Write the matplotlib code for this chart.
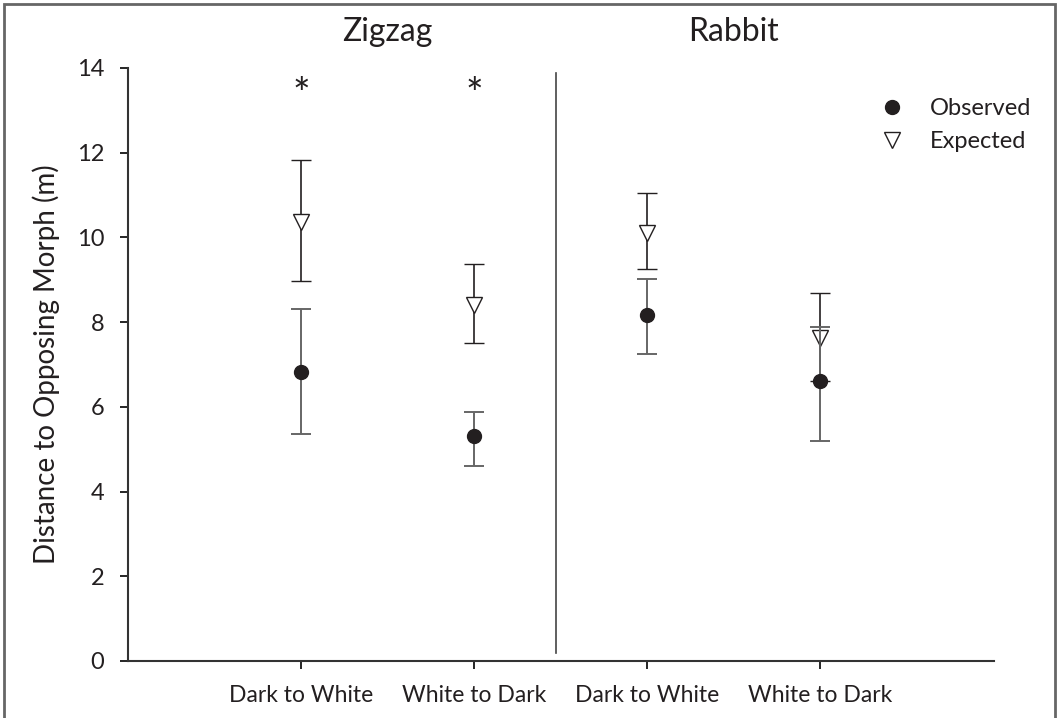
import matplotlib.pyplot as plt
from matplotlib.lines import Line2D
from matplotlib.patches import Rectangle

plt.rcParams['font.family'] = ['Lato', 'DejaVu Sans']

# data
categories = ["Dark to White", "White to Dark", "Dark to White", "White to Dark"]
positions = [1, 2, 3, 4]

observed = [6.83, 5.30, 8.17, 6.61]
obs_low = [5.37, 4.60, 7.25, 5.19]
obs_high = [8.30, 5.89, 9.02, 7.89]

expected = [10.37, 8.40, 10.10, 7.62]
exp_low = [8.97, 7.50, 9.25, 6.60]
exp_high = [11.83, 9.37, 11.04, 8.68]

signif = [1, 2]          # positions marked with *
group_names = ["Zigzag", "Rabbit"]

INK = "#231f20"

fig = plt.figure(figsize=(10.57, 7.18), dpi=100)
ax = fig.add_axes([0.121, 0.0794, 0.819, 0.8259])

# outer frame around the figure
fig.patches.append(Rectangle((0.004, -0.01), 0.994, 1.004, transform=fig.transFigure,
                             fill=False, edgecolor="#666666", linewidth=2))

obs_err = [[o - l for o, l in zip(observed, obs_low)],
           [h - o for o, h in zip(observed, obs_high)]]
exp_err = [[e - l for e, l in zip(expected, exp_low)],
           [h - e for e, h in zip(expected, exp_high)]]

ax.errorbar(positions, expected, yerr=exp_err, fmt="v", mfc="white", mec=INK,
            ms=11, mew=1.0, ecolor=INK, elinewidth=1.2, capsize=7, capthick=1.2,
            zorder=2)
ax.errorbar(positions, observed, yerr=obs_err, fmt="o", mfc=INK, mec=INK,
            ms=10, ecolor="#666666", elinewidth=1.4, capsize=7, capthick=1.4, zorder=3)

for p in signif:
    ax.text(p, 13.35, "*", ha="center", va="center", fontsize=30, color=INK)

# divider between groups
ax.plot([2.47, 2.47], [0.2, 13.88], color="#444444", lw=1.2, clip_on=False)

ax.text(1.5, 1.06, group_names[0], transform=ax.get_xaxis_transform(),
        ha="center", va="center", fontsize=23, color=INK)
ax.text(3.5, 1.06, group_names[1], transform=ax.get_xaxis_transform(),
        ha="center", va="center", fontsize=23, color=INK)

ax.set_xlim(0, 5)
ax.set_ylim(0, 14)
ax.set_xticks(positions)
ax.set_xticklabels(categories, fontsize=16.5, color=INK)
ax.set_yticks(range(0, 15, 2))
ax.tick_params(axis="y", labelsize=17, labelcolor=INK, length=6, width=1.2, pad=11)
ax.tick_params(axis="x", length=6, width=1.2, pad=11)
ax.set_ylabel("Distance to Opposing Morph (m)", fontsize=20, color=INK, labelpad=12)

for s in ["top", "right"]:
    ax.spines[s].set_visible(False)
for s in ["left", "bottom"]:
    ax.spines[s].set_linewidth(1.5)
    ax.spines[s].set_color("#333333")

handles = [
    Line2D([], [], ls="none", marker="o", mfc=INK, mec=INK, ms=10),
    Line2D([], [], ls="none", marker="v", mfc="white", mec=INK, ms=11),
]
ax.legend(handles, ["Observed", "Expected"], loc="upper right", bbox_to_anchor=(1.068, 0.985),
          frameon=False, fontsize=17, handletextpad=0.6, labelspacing=0.5,
          labelcolor=INK)

fig.savefig("out.png", dpi=100)
